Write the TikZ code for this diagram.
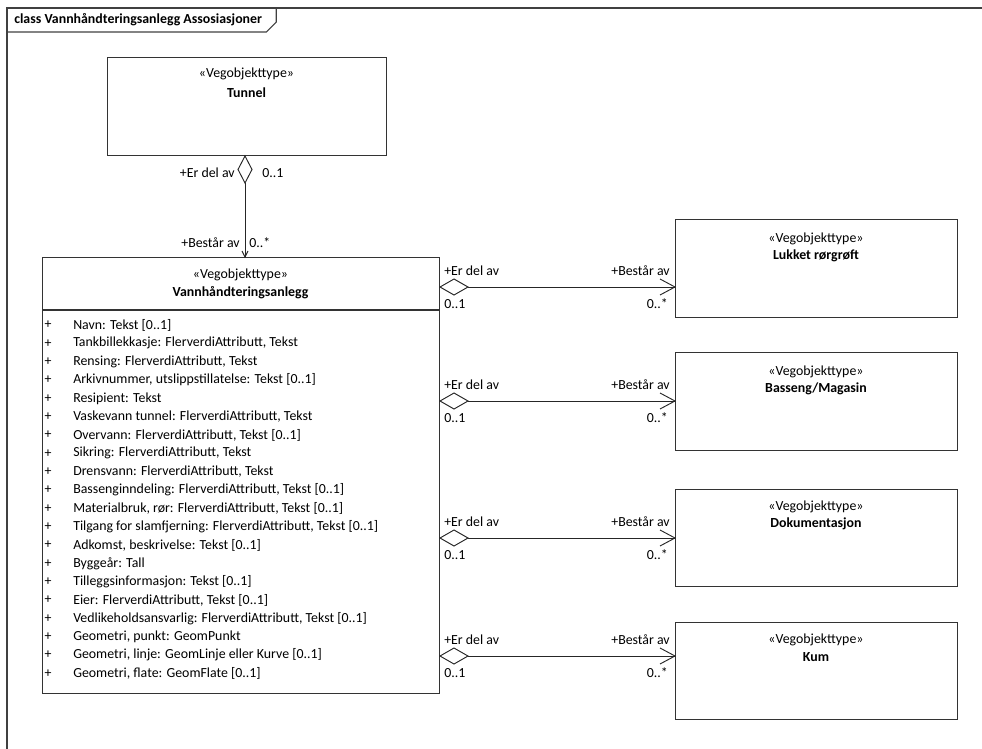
\documentclass[tikz,border=0pt]{standalone}
\usepackage{fontspec}
\setmainfont{Carlito}
\begin{document}
\begin{tikzpicture}[x=0.75pt,y=-0.75pt,
  every node/.style={font=\fontsize{10.4}{12}\selectfont, inner sep=0pt, text=black},
  boldtxt/.style={font=\fontsize{10.4}{12}\selectfont\bfseries},
  box/.style={draw=black!80, line width=0.8pt, fill=white, anchor=north west, inner sep=0pt},
  conn/.style={draw=black!85, line width=0.7pt},
  agg/.style={draw=black!85, line width=0.7pt, fill=white},
  opentip/.style={draw=black!85, line width=0.7pt}
]
\useasboundingbox (0,0) rectangle (982,749);
% frame
\draw[black!75, line width=0.8pt] (982,8) -- (7,8) -- (7,749);
\node[anchor=west, boldtxt] (title) at (14,20) {class Vannhåndteringsanlegg Assosiasjoner};
\draw[black!75, line width=0.8pt] (7,32) -- ([xshift=3pt]title.east |- 0,32) -- ([xshift=10.5pt]title.east |- 0,22) -- ([xshift=10.5pt]title.east |- 0,8);

% Tunnel
\node[box, minimum width={279*0.75pt}, minimum height={98*0.75pt}] (tunnel) at (107,57) {};
\node (tunst) at (246.5,74) {«Vegobjekttype»};
\node[boldtxt] (tunnm) at (246.5,93) {Tunnel};

% Main
\node[box, minimum width={397*0.75pt}, minimum height={436*0.75pt}] (main) at (42,257) {};
\coordinate (divl) at (42,310);
\coordinate (divr) at (439,310);
\draw[black!80, line width=0.8pt] (divl) -- (divr);
\node (mainst) at (240.5,275) {«Vegobjekttype»};
\node[boldtxt] (mainnm) at (240.5,293) {Vannhåndteringsanlegg};

\foreach \t [count=\i from 0] in {
 {Navn: Tekst [0..1]},
 {Tankbillekkasje: FlerverdiAttributt, Tekst},
 {Rensing: FlerverdiAttributt, Tekst},
 {Arkivnummer, utslippstillatelse: Tekst [0..1]},
 {Resipient: Tekst},
 {Vaskevann tunnel: FlerverdiAttributt, Tekst},
 {Overvann: FlerverdiAttributt, Tekst [0..1]},
 {Sikring: FlerverdiAttributt, Tekst},
 {Drensvann: FlerverdiAttributt, Tekst},
 {Bassenginndeling: FlerverdiAttributt, Tekst [0..1]},
 {Materialbruk, rør: FlerverdiAttributt, Tekst [0..1]},
 {Tilgang for slamfjerning: FlerverdiAttributt, Tekst [0..1]},
 {Adkomst, beskrivelse: Tekst [0..1]},
 {Byggeår: Tall},
 {Tilleggsinformasjon: Tekst [0..1]},
 {Eier: FlerverdiAttributt, Tekst [0..1]},
 {Vedlikeholdsansvarlig: FlerverdiAttributt, Tekst [0..1]},
 {Geometri, punkt: GeomPunkt},
 {Geometri, linje: GeomLinje eller Kurve [0..1]},
 {Geometri, flate: GeomFlate [0..1]}} {
  \node[anchor=center] (plus\i) at (48,325+18.33*\i) {+};
  \node[anchor=west] (attr\i) at (73,325+18.33*\i) {\t};
}

% right boxes
\node[box, minimum width={282*0.75pt}, minimum height={98*0.75pt}] (lukket) at (675,219) {};
\node (lukst) at (816,239) {«Vegobjekttype»};
\node[boldtxt] (luknm) at (816,256) {Lukket rørgrøft};

\node[box, minimum width={282*0.75pt}, minimum height={98*0.75pt}] (basseng) at (675,352) {};
\node (basst) at (816,372) {«Vegobjekttype»};
\node[boldtxt] (basnm) at (816,389) {Basseng/Magasin};

\node[box, minimum width={282*0.75pt}, minimum height={97*0.75pt}] (dok) at (675,489) {};
\node (dokst) at (816,507) {«Vegobjekttype»};
\node[boldtxt] (doknm) at (816,524) {Dokumentasjon};

\node[box, minimum width={282*0.75pt}, minimum height={97*0.75pt}] (kum) at (675,622) {};
\node (kumst) at (816,640) {«Vegobjekttype»};
\node[boldtxt] (kumnm) at (816,657) {Kum};

% vertical association Tunnel - main
\coordinate (vtop) at (245,156);
\coordinate (vdb) at (245,183);
\coordinate (vend) at (245,257);
\draw[conn] (vdb) -- (vend);
\draw[agg] (vtop) -- (252,169.5) -- (vdb) -- (238,169.5) -- cycle;
\draw[opentip] (242,251) -- (vend) -- (248,251);
\node[anchor=east] (vl1) at (235,173) {+Er del av};
\node[anchor=west] (vl2) at (262,173) {0..1};
\node[anchor=east] (vl3) at (240,243) {+Består av};
\node[anchor=west] (vl4) at (249,243) {0..*};

% horizontal associations
\foreach \y/\tgt in {287/lukket, 401/basseng, 538/dok, 656/kum} {
  \coordinate (s\tgt) at (440,\y);
  \coordinate (d\tgt) at (468,\y);
  \coordinate (e\tgt) at (675,\y);
  \draw[conn] (d\tgt) -- (e\tgt);
  \draw[agg] (s\tgt) -- (454,\y-8) -- (d\tgt) -- (454,\y+8) -- cycle;
  \draw[opentip] (660,\y-8) -- (e\tgt) -- (660,\y+8);
  \node[anchor=west] (r1\tgt) at (444,\y-16) {+Er del av};
  \node[anchor=west] (r2\tgt) at (444,\y+17) {0..1};
  \node[anchor=east] (r3\tgt) at (670,\y-16) {+Består av};
  \node[anchor=east] (r4\tgt) at (668,\y+17) {0..*};
}
\end{tikzpicture}
\end{document}
